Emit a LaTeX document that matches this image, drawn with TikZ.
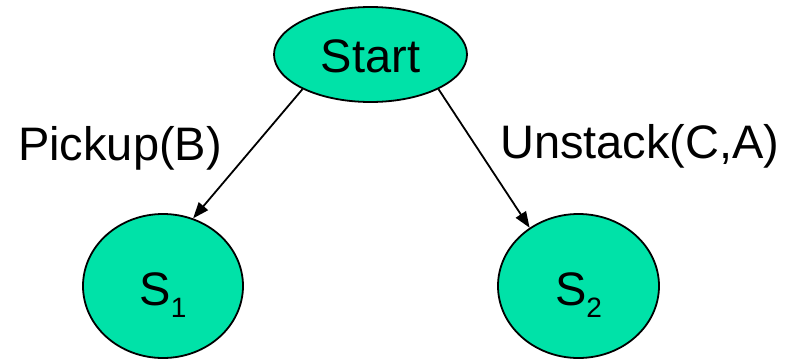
\documentclass[tikz,border=0pt]{standalone}
\usepackage{fontspec}
\setmainfont{Liberation Sans}
\usetikzlibrary{arrows.meta,shapes.geometric}
\definecolor{statefill}{RGB}{0,226,168}
\newcommand{\stname}[1]{S\raisebox{-12pt}{\fontsize{28}{30}\selectfont #1}}
\begin{document}
\begin{tikzpicture}[x=1pt,y=-1pt,
  state/.style={ellipse, draw=black, line width=1.8pt, fill=statefill,
    inner sep=0pt, font=\fontsize{47}{56}\selectfont},
  lbl/.style={font=\fontsize{47}{56}\selectfont, inner sep=0pt, anchor=base west},
  edge/.style={line width=1.8pt, -{Triangle[length=16pt,width=12pt]}}]
\useasboundingbox (0,0) rectangle (796,359);
% states
\node[state, minimum width=193pt, minimum height=95pt,
      text height=36pt, text depth=1pt] (start) at (370.5,54.5) {Start};
\node[state, minimum width=160pt, minimum height=144pt,
      text height=40pt, text depth=2pt] (s1) at (163,286) {\stname{1}};
\node[state, minimum width=161pt, minimum height=144pt,
      text height=40pt, text depth=2pt] (s2) at (578.5,286) {\stname{2}};
% actions
\node[lbl] (pick) at (18,160) {Pickup(B)};
\node[lbl] (unstack) at (500,158) {Unstack(C,A)};
% transitions
\draw[edge] (start.207) -- (s1.66);
\draw[edge] (start.333) -- (s2.130);
\end{tikzpicture}
\end{document}
